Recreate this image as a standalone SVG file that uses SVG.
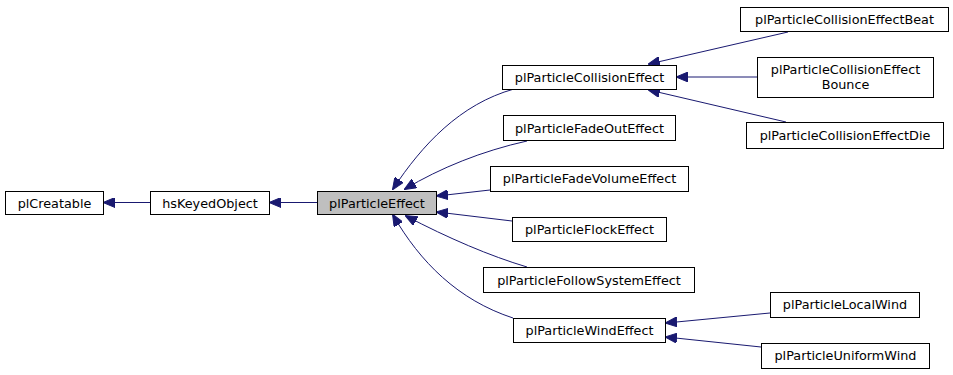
<svg xmlns="http://www.w3.org/2000/svg" width="953" height="375" viewBox="0 0 953 375">
  <style>
    .box { fill: #ffffff; stroke: #000000; stroke-width: 1; }
    .cur { fill: #bfbfbf; stroke: #000000; stroke-width: 1; }
    .lbl { font-family: "DejaVu Sans", "Liberation Sans", sans-serif; font-size: 12.8px; fill: #000000; text-anchor: middle; }
    .edge { fill: none; stroke: #191970; stroke-width: 1; marker-end: url(#head); }
  </style>
  <defs>
    <marker id="head" viewBox="0 0 12 10" refX="11" refY="5" markerWidth="12" markerHeight="10" markerUnits="userSpaceOnUse" orient="auto">
      <path d="M0,0 L12,5 L0,10 z" fill="#191970" stroke="#191970"/>
    </marker>
  </defs>
  <rect width="953" height="375" fill="#ffffff"/>

  <g id="edges">
    <path class="edge" d="M150,202.5 L104,202.5"/>
    <path class="edge" d="M317,202.5 L270,202.5"/>
    <path class="edge" d="M514,89 C460,104 422,145 393,189"/>
    <path class="edge" d="M527,141 C482,151 440,168 405,189"/>
    <path class="edge" d="M490,190 L437,196"/>
    <path class="edge" d="M512,221 L437,212"/>
    <path class="edge" d="M527,267 C490,256 448,238 406,216"/>
    <path class="edge" d="M513,318 C458,300 420,262 393,215"/>
    <path class="edge" d="M788,32 L649,64"/>
    <path class="edge" d="M757,77 L677,77"/>
    <path class="edge" d="M786,122 L649,90"/>
    <path class="edge" d="M770,313 L666,323"/>
    <path class="edge" d="M761,347 L666,337"/>
  </g>

  <g id="plCreatable">
    <rect class="box" x="5.5" y="191.5" width="98" height="23"/>
    <text class="lbl" x="54.5" y="207.5">plCreatable</text>
  </g>
  <g id="hsKeyedObject">
    <rect class="box" x="150.5" y="191.5" width="119" height="23"/>
    <text class="lbl" x="210" y="207.5">hsKeyedObject</text>
  </g>
  <g id="plParticleEffect">
    <rect class="cur" x="317.5" y="191.5" width="119" height="23"/>
    <text class="lbl" x="377" y="207.5">plParticleEffect</text>
  </g>
  <g id="plParticleCollisionEffect">
    <rect class="box" x="502.5" y="65.5" width="174" height="24"/>
    <text class="lbl" x="589.5" y="82">plParticleCollisionEffect</text>
  </g>
  <g id="plParticleFadeOutEffect">
    <rect class="box" x="503.5" y="115.5" width="172" height="25"/>
    <text class="lbl" x="589.5" y="132.5">plParticleFadeOutEffect</text>
  </g>
  <g id="plParticleFadeVolumeEffect">
    <rect class="box" x="490.5" y="166.5" width="198" height="25"/>
    <text class="lbl" x="589.5" y="183">plParticleFadeVolumeEffect</text>
  </g>
  <g id="plParticleFlockEffect">
    <rect class="box" x="512.5" y="217.5" width="154" height="24"/>
    <text class="lbl" x="589.5" y="234">plParticleFlockEffect</text>
  </g>
  <g id="plParticleFollowSystemEffect">
    <rect class="box" x="483.5" y="267.5" width="211" height="25"/>
    <text class="lbl" x="589" y="284.5">plParticleFollowSystemEffect</text>
  </g>
  <g id="plParticleWindEffect">
    <rect class="box" x="513.5" y="318.5" width="152" height="24"/>
    <text class="lbl" x="589.5" y="335">plParticleWindEffect</text>
  </g>
  <g id="plParticleCollisionEffectBeat">
    <rect class="box" x="740.5" y="7.5" width="208" height="24"/>
    <text class="lbl" x="844.5" y="24">plParticleCollisionEffectBeat</text>
  </g>
  <g id="plParticleCollisionEffectBounce">
    <rect class="box" x="757.5" y="57.5" width="176" height="40"/>
    <text class="lbl" x="845.5" y="74">plParticleCollisionEffect</text>
    <text class="lbl" x="845.5" y="89">Bounce</text>
  </g>
  <g id="plParticleCollisionEffectDie">
    <rect class="box" x="746.5" y="122.5" width="197" height="26"/>
    <text class="lbl" x="845" y="140">plParticleCollisionEffectDie</text>
  </g>
  <g id="plParticleLocalWind">
    <rect class="box" x="770.5" y="292.5" width="149" height="25"/>
    <text class="lbl" x="845" y="309">plParticleLocalWind</text>
  </g>
  <g id="plParticleUniformWind">
    <rect class="box" x="761.5" y="343.5" width="168" height="25"/>
    <text class="lbl" x="845.5" y="360">plParticleUniformWind</text>
  </g>
</svg>
